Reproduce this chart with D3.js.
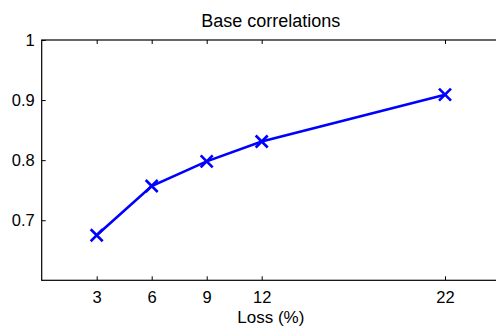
<!DOCTYPE html>
<html>
<head>
<meta charset="utf-8">
<script src="https://cdn.jsdelivr.net/npm/d3@7"></script>
<style>
  body { margin: 0; background: #fff; }
  svg { display: block; font-family: "Liberation Sans", Arial, Helvetica, sans-serif; }
</style>
</head>
<body>
<svg id="chart" width="496" height="327"></svg>
<script>
// data
var losses = [3, 6, 9, 12, 22];
var correlations = [0.675, 0.757, 0.798, 0.831, 0.909];
var xTicks = [3, 6, 9, 12, 22];
var yTicks = [0.7, 0.8, 0.9, 1];
var yTickLabels = ["0.7", "0.8", "0.9", "1"];

var svg = d3.select("#chart");
var plotLeft = 41.7, plotRight = 500, plotTop = 40, plotBottom = 280.3;

var x = d3.scaleLinear().domain([0, 25]).range([plotLeft, plotRight]);
var y = d3.scaleLinear().domain([0.6, 1]).range([plotBottom, plotTop]);

// box
svg.append("rect")
    .attr("x", plotLeft)
    .attr("y", plotTop)
    .attr("width", plotRight - plotLeft)
    .attr("height", plotBottom - plotTop)
    .attr("fill", "none")
    .attr("stroke", "#000")
    .attr("stroke-width", 1.2);

// bottom axis, ticks inward
svg.append("g")
    .attr("transform", "translate(0," + plotBottom + ")")
    .call(d3.axisBottom(x).tickValues(xTicks).tickSizeInner(-4).tickSizeOuter(0).tickPadding(11));
// top ticks
svg.append("g")
    .attr("transform", "translate(0," + plotTop + ")")
    .call(d3.axisTop(x).tickValues(xTicks).tickSizeInner(-4).tickSizeOuter(0).tickFormat(""));
svg.append("g")
    .attr("transform", "translate(" + plotLeft + ",0)")
    .call(d3.axisLeft(y).tickValues(yTicks).tickSizeInner(-4).tickSizeOuter(0).tickPadding(7)
        .tickFormat(function(d, i){ return yTickLabels[i]; }));

svg.selectAll(".domain").remove();
svg.selectAll(".tick line").attr("stroke", "#000").attr("stroke-width", 1);
svg.selectAll(".tick text")
    .attr("fill", "#000")
    .attr("font-size", "16.5px")
    .attr("font-family", "Liberation Sans, Arial, sans-serif");

// line
var line = d3.line()
    .x(function(d, i){ return x(losses[i]); })
    .y(function(d){ return y(d); });
svg.append("path")
    .datum(correlations)
    .attr("d", line)
    .attr("fill", "none")
    .attr("stroke", "#0000ff")
    .attr("stroke-width", 2.6);

// x markers
var m = 6;
svg.append("g")
    .selectAll("path")
    .data(correlations)
    .enter()
    .append("path")
        .attr("d", function(d, i){
            var cx = x(losses[i]), cy = y(d);
            return "M" + (cx - m) + "," + (cy - m) + "L" + (cx + m) + "," + (cy + m) +
                   "M" + (cx - m) + "," + (cy + m) + "L" + (cx + m) + "," + (cy - m);
        })
        .attr("stroke", "#0000ff")
        .attr("stroke-width", 2.6)
        .attr("fill", "none");

svg.append("text")
    .attr("x", (plotLeft + plotRight) / 2)
    .attr("y", 26.5)
    .attr("text-anchor", "middle")
    .attr("font-size", "18px")
    .text("Base correlations");

svg.append("text")
    .attr("x", (plotLeft + plotRight) / 2)
    .attr("y", 322.5)
    .attr("text-anchor", "middle")
    .attr("font-size", "17px")
    .text("Loss (%)");
</script>
</body>
</html>
